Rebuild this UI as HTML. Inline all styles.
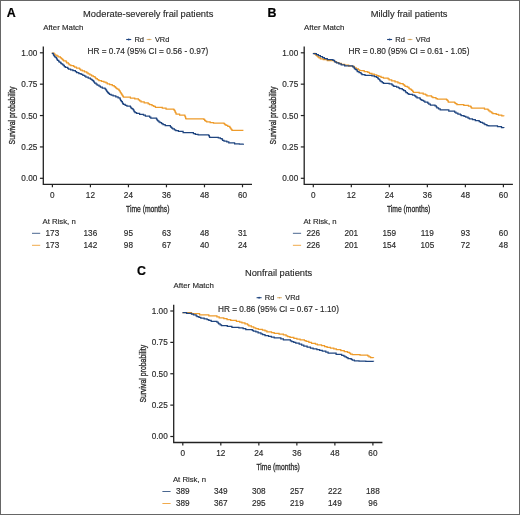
<!DOCTYPE html>
<html><head><meta charset="utf-8"><style>
html,body{margin:0;padding:0;background:#fff;}
svg{display:block;font-family:"Liberation Sans", sans-serif;will-change:transform;}
text{stroke:#2b2b2b;stroke-width:.16px;}
text.L{stroke:#000;stroke-width:.2px;}
</style></head><body>
<svg width="520" height="515" viewBox="0 0 520 515">
<rect x="0" y="0" width="520" height="515" fill="#fff"/>
<text x="6.7" y="16.9" class="L" font-size="12.4" font-weight="bold" fill="#000">A</text>
<text x="148.2" y="17.3" font-size="9.9" textLength="130.2" lengthAdjust="spacingAndGlyphs" text-anchor="middle" fill="#2b2b2b">Moderate-severely frail patients</text>
<text x="43.2" y="29.8" font-size="7.9" textLength="40.2" lengthAdjust="spacingAndGlyphs" fill="#2b2b2b">After Match</text>
<line x1="126.2" y1="39.5" x2="131.2" y2="39.5" stroke="#1f4580" stroke-width="1.1"/><circle cx="128.7" cy="39.5" r="0.9" fill="#1f4580"/>
<text x="134.4" y="41.9" font-size="7.6" textLength="9.6" lengthAdjust="spacingAndGlyphs" fill="#2b2b2b">Rd</text>
<line x1="146.7" y1="39.5" x2="151.5" y2="39.5" stroke="#e2b978" stroke-width="1.1"/><circle cx="149.1" cy="39.5" r="0.8" fill="#c99a55"/>
<text x="154.9" y="41.9" font-size="7.6" textLength="14.4" lengthAdjust="spacingAndGlyphs" fill="#2b2b2b">VRd</text>
<text x="87.6" y="54.0" font-size="8.2" textLength="120.6" lengthAdjust="spacingAndGlyphs" fill="#2b2b2b">HR = 0.74 (95% CI = 0.56 - 0.97)</text>
<path d="M43.30,46.50 V184.30 H252.00" fill="none" stroke="#222" stroke-width="1.3"/>
<line x1="39.90" y1="52.80" x2="43.30" y2="52.80" stroke="#222" stroke-width="1.2"/>
<text x="37.3" y="55.7" font-size="8.2" text-anchor="end" fill="#2b2b2b">1.00</text>
<line x1="39.90" y1="84.17" x2="43.30" y2="84.17" stroke="#222" stroke-width="1.2"/>
<text x="37.3" y="87.1" font-size="8.2" text-anchor="end" fill="#2b2b2b">0.75</text>
<line x1="39.90" y1="115.55" x2="43.30" y2="115.55" stroke="#222" stroke-width="1.2"/>
<text x="37.3" y="118.5" font-size="8.2" text-anchor="end" fill="#2b2b2b">0.50</text>
<line x1="39.90" y1="146.93" x2="43.30" y2="146.93" stroke="#222" stroke-width="1.2"/>
<text x="37.3" y="149.8" font-size="8.2" text-anchor="end" fill="#2b2b2b">0.25</text>
<line x1="39.90" y1="178.30" x2="43.30" y2="178.30" stroke="#222" stroke-width="1.2"/>
<text x="37.3" y="181.2" font-size="8.2" text-anchor="end" fill="#2b2b2b">0.00</text>
<line x1="52.40" y1="184.30" x2="52.40" y2="187.30" stroke="#222" stroke-width="1.2"/>
<text x="52.4" y="197.6" font-size="8.2" text-anchor="middle" fill="#2b2b2b">0</text>
<text x="52.4" y="235.9" font-size="8.2" text-anchor="middle" fill="#2b2b2b">173</text>
<text x="52.4" y="247.6" font-size="8.2" text-anchor="middle" fill="#2b2b2b">173</text>
<line x1="90.42" y1="184.30" x2="90.42" y2="187.30" stroke="#222" stroke-width="1.2"/>
<text x="90.4" y="197.6" font-size="8.2" text-anchor="middle" fill="#2b2b2b">12</text>
<text x="90.4" y="235.9" font-size="8.2" text-anchor="middle" fill="#2b2b2b">136</text>
<text x="90.4" y="247.6" font-size="8.2" text-anchor="middle" fill="#2b2b2b">142</text>
<line x1="128.44" y1="184.30" x2="128.44" y2="187.30" stroke="#222" stroke-width="1.2"/>
<text x="128.4" y="197.6" font-size="8.2" text-anchor="middle" fill="#2b2b2b">24</text>
<text x="128.4" y="235.9" font-size="8.2" text-anchor="middle" fill="#2b2b2b">95</text>
<text x="128.4" y="247.6" font-size="8.2" text-anchor="middle" fill="#2b2b2b">98</text>
<line x1="166.46" y1="184.30" x2="166.46" y2="187.30" stroke="#222" stroke-width="1.2"/>
<text x="166.5" y="197.6" font-size="8.2" text-anchor="middle" fill="#2b2b2b">36</text>
<text x="166.5" y="235.9" font-size="8.2" text-anchor="middle" fill="#2b2b2b">63</text>
<text x="166.5" y="247.6" font-size="8.2" text-anchor="middle" fill="#2b2b2b">67</text>
<line x1="204.48" y1="184.30" x2="204.48" y2="187.30" stroke="#222" stroke-width="1.2"/>
<text x="204.5" y="197.6" font-size="8.2" text-anchor="middle" fill="#2b2b2b">48</text>
<text x="204.5" y="235.9" font-size="8.2" text-anchor="middle" fill="#2b2b2b">48</text>
<text x="204.5" y="247.6" font-size="8.2" text-anchor="middle" fill="#2b2b2b">40</text>
<line x1="242.50" y1="184.30" x2="242.50" y2="187.30" stroke="#222" stroke-width="1.2"/>
<text x="242.5" y="197.6" font-size="8.2" text-anchor="middle" fill="#2b2b2b">60</text>
<text x="242.5" y="235.9" font-size="8.2" text-anchor="middle" fill="#2b2b2b">31</text>
<text x="242.5" y="247.6" font-size="8.2" text-anchor="middle" fill="#2b2b2b">24</text>
<text x="126.0" y="211.8" font-size="9.3" textLength="43.4" lengthAdjust="spacingAndGlyphs" fill="#2b2b2b" style="stroke-width:.32px">Time (months)</text>
<text transform="translate(15.2,144.4) rotate(-90)" x="0" y="0" font-size="9.3" textLength="57.8" lengthAdjust="spacingAndGlyphs" fill="#2b2b2b" style="stroke-width:.32px">Survival probability</text>
<text x="42.5" y="223.5" font-size="7.9" textLength="33.2" lengthAdjust="spacingAndGlyphs" fill="#2b2b2b">At Risk, n</text>
<line x1="32.0" y1="233.30" x2="40.2" y2="233.30" stroke="#4a6790" stroke-width="1"/>
<line x1="32.0" y1="245.30" x2="40.2" y2="245.30" stroke="#f1aa4c" stroke-width="1"/>
<polyline points="52.40,52.60 52.40,53.08 54.07,53.08 54.07,54.05 55.10,54.05 55.10,55.02 56.90,55.02 56.90,55.50 56.90,55.98 58.08,55.98 58.08,56.95 60.37,56.95 60.37,57.92 61.50,57.92 61.50,58.40 61.50,58.88 62.62,58.88 62.62,59.85 63.57,59.85 63.57,60.82 66.10,60.82 66.10,61.30 66.10,61.80 66.68,61.80 66.68,62.80 68.41,62.80 68.41,63.80 69.23,63.80 69.23,64.80 70.80,64.80 70.80,65.30 70.80,65.68 73.56,65.68 73.56,66.45 74.58,66.45 74.58,67.22 76.50,67.22 76.50,67.60 76.50,68.08 79.52,68.08 79.52,69.05 80.58,69.05 80.58,70.02 82.30,70.02 82.30,70.50 82.30,70.98 84.47,70.98 84.47,71.95 86.79,71.95 86.79,72.92 88.10,72.92 88.10,73.40 88.10,73.87 89.88,73.87 89.88,74.81 91.66,74.81 91.66,75.75 93.33,75.75 93.33,76.69 95.03,76.69 95.03,77.63 95.80,77.63 95.80,78.10 95.80,78.58 97.34,78.58 97.34,79.55 98.83,79.55 98.83,80.52 101.50,80.52 101.50,81.00 101.50,81.38 103.91,81.38 103.91,82.15 105.95,82.15 105.95,82.92 107.30,82.92 107.30,83.30 107.30,83.77 109.62,83.77 109.62,84.70 112.25,84.70 112.25,85.63 114.20,85.63 114.20,86.10 114.20,86.54 115.30,86.54 115.30,87.41 116.13,87.41 116.13,88.29 117.22,88.29 117.22,89.16 118.80,89.16 118.80,89.60 118.80,90.04 119.43,90.04 119.43,90.91 120.10,90.91 120.10,91.79 120.47,91.79 120.47,92.66 121.10,92.66 121.10,93.10 121.10,93.52 121.71,93.52 121.71,94.38 122.06,94.38 122.06,95.22 122.67,95.22 122.67,96.08 123.40,96.08 123.40,96.50 123.40,97.10 130.40,97.10 130.40,97.70 130.40,98.12 134.75,98.12 134.75,98.98 138.40,98.98 138.40,99.40 138.40,99.88 139.62,99.88 139.62,100.85 141.01,100.85 141.01,101.82 144.20,101.82 144.20,102.30 144.20,102.80 148.19,102.80 148.19,103.80 149.60,103.80 149.60,104.30 149.60,104.70 152.00,104.70 152.00,105.50 153.73,105.50 153.73,106.30 155.40,106.30 155.40,106.70 155.40,107.25 162.30,107.25 162.30,107.80 162.30,108.22 166.06,108.22 166.06,109.08 173.80,109.08 173.80,109.50 173.80,109.91 174.56,109.91 174.56,110.73 175.04,110.73 175.04,111.55 175.26,111.55 175.26,112.37 175.81,112.37 175.81,113.19 176.10,113.19 176.10,113.60 176.10,114.15 179.60,114.15 179.60,114.70 179.60,115.00 184.80,115.00 184.80,115.30 184.80,115.74 185.01,115.74 185.01,116.61 185.50,116.61 185.50,117.49 185.64,117.49 185.64,118.36 186.00,118.36 186.00,118.80 203.80,118.80 203.80,118.90 203.80,119.35 204.62,119.35 204.62,120.25 205.35,120.25 205.35,121.15 206.70,121.15 206.70,121.60 206.70,121.97 210.16,121.97 210.16,122.72 213.50,122.72 213.50,123.10 224.00,123.10 224.00,123.10 224.00,123.57 224.79,123.57 224.79,124.53 226.00,124.53 226.00,125.00 226.00,125.47 227.79,125.47 227.79,126.43 229.80,126.43 229.80,126.90 229.80,127.33 230.30,127.33 230.30,128.18 230.96,128.18 230.96,129.03 231.64,129.03 231.64,129.88 232.20,129.88 232.20,130.30 243.40,130.30 243.40,130.30" fill="none" stroke="#ee9b2a" stroke-width="1.25" stroke-linejoin="miter"/>
<polyline points="52.40,52.80 52.40,53.30 53.20,53.30 53.20,53.80 53.20,54.22 53.51,54.22 53.51,55.08 54.04,55.08 54.04,55.92 54.64,55.92 54.64,56.78 55.80,56.78 55.80,57.20 55.80,57.66 56.51,57.66 56.51,58.58 57.05,58.58 57.05,59.50 57.52,59.50 57.52,60.42 58.75,60.42 58.75,61.34 59.20,61.34 59.20,61.80 59.20,62.24 60.67,62.24 60.67,63.11 61.37,63.11 61.37,63.99 62.71,63.99 62.71,64.86 63.80,64.86 63.80,65.30 63.80,65.74 64.37,65.74 64.37,66.61 65.44,66.61 65.44,67.49 67.71,67.49 67.71,68.36 68.50,68.36 68.50,68.80 68.50,69.18 70.59,69.18 70.59,69.95 72.91,69.95 72.91,70.72 75.40,70.72 75.40,71.10 75.40,71.58 76.63,71.58 76.63,72.55 78.86,72.55 78.86,73.52 81.10,73.52 81.10,74.00 81.10,74.42 82.83,74.42 82.83,75.28 84.60,75.28 84.60,75.70 84.60,76.18 85.89,76.18 85.89,77.15 88.19,77.15 88.19,78.12 90.40,78.12 90.40,78.60 90.40,79.01 91.68,79.01 91.68,79.83 92.69,79.83 92.69,80.65 93.55,80.65 93.55,81.47 94.12,81.47 94.12,82.29 94.60,82.29 94.60,82.70 94.60,83.20 96.07,83.20 96.07,84.20 97.15,84.20 97.15,85.20 99.00,85.20 99.00,86.20 100.40,86.20 100.40,86.70 100.40,87.15 102.28,87.15 102.28,88.05 105.00,88.05 105.00,88.50 105.00,88.96 105.74,88.96 105.74,89.88 106.52,89.88 106.52,90.80 106.96,90.80 106.96,91.72 107.69,91.72 107.69,92.64 108.50,92.64 108.50,93.10 108.50,93.48 109.44,93.48 109.44,94.25 111.12,94.25 111.12,95.02 113.10,95.02 113.10,95.40 113.10,95.88 115.80,95.88 115.80,96.85 118.08,96.85 118.08,97.82 120.00,97.82 120.00,98.30 120.00,98.77 120.31,98.77 120.31,99.72 120.67,99.72 120.67,100.67 121.49,100.67 121.49,101.62 122.39,101.62 122.39,102.58 122.71,102.58 122.71,103.53 123.40,103.53 123.40,104.00 123.40,104.45 125.18,104.45 125.18,105.35 126.90,105.35 126.90,105.80 126.90,106.05 130.40,106.05 130.40,106.30 130.40,106.78 130.83,106.78 130.83,107.75 131.71,107.75 131.71,108.72 132.96,108.72 132.96,109.68 133.74,109.68 133.74,110.65 134.11,110.65 134.11,111.62 135.00,111.62 135.00,112.10 135.00,112.52 136.57,112.52 136.57,113.38 139.60,113.38 139.60,113.80 139.60,114.27 143.50,114.27 143.50,115.22 145.36,115.22 145.36,116.17 149.61,116.17 149.61,117.12 150.80,117.12 150.80,117.60 150.80,118.20 156.50,118.20 156.50,118.80 156.50,119.22 157.16,119.22 157.16,120.08 157.75,120.08 157.75,120.92 158.84,120.92 158.84,121.78 160.00,121.78 160.00,122.20 160.00,122.68 161.59,122.68 161.59,123.65 163.02,123.65 163.02,124.62 165.20,124.62 165.20,125.10 165.20,125.70 170.40,125.70 170.40,126.30 170.40,126.68 171.00,126.68 171.00,127.45 171.73,127.45 171.73,128.22 172.70,128.22 172.70,128.60 172.70,128.98 174.40,128.98 174.40,129.75 175.78,129.75 175.78,130.52 178.40,130.52 178.40,130.90 178.40,131.45 183.10,131.45 183.10,132.00 183.10,132.60 193.40,132.60 193.40,133.20 193.40,133.62 195.33,133.62 195.33,134.47 198.10,134.47 198.10,134.90 208.70,134.90 208.70,135.10 208.70,135.62 209.33,135.62 209.33,136.67 209.60,136.67 209.60,137.20 209.60,137.35 218.30,137.35 218.30,137.50 218.30,137.85 220.32,137.85 220.32,138.55 222.10,138.55 222.10,138.90 222.10,139.38 222.53,139.38 222.53,140.33 224.00,140.33 224.00,140.80 224.00,141.18 226.77,141.18 226.77,141.93 228.80,141.93 228.80,142.30 228.80,142.80 234.60,142.80 234.60,143.30 234.60,143.75 239.40,143.75 239.40,144.20 243.40,144.20 243.40,143.80" fill="none" stroke="#1f4580" stroke-width="1.25" stroke-linejoin="miter"/>
<text x="267.6" y="16.9" class="L" font-size="12.4" font-weight="bold" fill="#000">B</text>
<text x="409.1" y="17.3" font-size="9.9" textLength="76.8" lengthAdjust="spacingAndGlyphs" text-anchor="middle" fill="#2b2b2b">Mildly frail patients</text>
<text x="304.1" y="29.8" font-size="7.9" textLength="40.2" lengthAdjust="spacingAndGlyphs" fill="#2b2b2b">After Match</text>
<line x1="387.1" y1="39.5" x2="392.1" y2="39.5" stroke="#1f4580" stroke-width="1.1"/><circle cx="389.6" cy="39.5" r="0.9" fill="#1f4580"/>
<text x="395.3" y="41.9" font-size="7.6" textLength="9.6" lengthAdjust="spacingAndGlyphs" fill="#2b2b2b">Rd</text>
<line x1="407.6" y1="39.5" x2="412.4" y2="39.5" stroke="#e2b978" stroke-width="1.1"/><circle cx="410.0" cy="39.5" r="0.8" fill="#c99a55"/>
<text x="415.8" y="41.9" font-size="7.6" textLength="14.4" lengthAdjust="spacingAndGlyphs" fill="#2b2b2b">VRd</text>
<text x="348.5" y="54.0" font-size="8.2" textLength="120.9" lengthAdjust="spacingAndGlyphs" fill="#2b2b2b">HR = 0.80 (95% CI = 0.61 - 1.05)</text>
<path d="M304.20,46.50 V184.30 H512.90" fill="none" stroke="#222" stroke-width="1.3"/>
<line x1="300.80" y1="52.80" x2="304.20" y2="52.80" stroke="#222" stroke-width="1.2"/>
<text x="298.2" y="55.7" font-size="8.2" text-anchor="end" fill="#2b2b2b">1.00</text>
<line x1="300.80" y1="84.17" x2="304.20" y2="84.17" stroke="#222" stroke-width="1.2"/>
<text x="298.2" y="87.1" font-size="8.2" text-anchor="end" fill="#2b2b2b">0.75</text>
<line x1="300.80" y1="115.55" x2="304.20" y2="115.55" stroke="#222" stroke-width="1.2"/>
<text x="298.2" y="118.5" font-size="8.2" text-anchor="end" fill="#2b2b2b">0.50</text>
<line x1="300.80" y1="146.93" x2="304.20" y2="146.93" stroke="#222" stroke-width="1.2"/>
<text x="298.2" y="149.8" font-size="8.2" text-anchor="end" fill="#2b2b2b">0.25</text>
<line x1="300.80" y1="178.30" x2="304.20" y2="178.30" stroke="#222" stroke-width="1.2"/>
<text x="298.2" y="181.2" font-size="8.2" text-anchor="end" fill="#2b2b2b">0.00</text>
<line x1="313.30" y1="184.30" x2="313.30" y2="187.30" stroke="#222" stroke-width="1.2"/>
<text x="313.3" y="197.6" font-size="8.2" text-anchor="middle" fill="#2b2b2b">0</text>
<text x="313.3" y="235.9" font-size="8.2" text-anchor="middle" fill="#2b2b2b">226</text>
<text x="313.3" y="247.6" font-size="8.2" text-anchor="middle" fill="#2b2b2b">226</text>
<line x1="351.32" y1="184.30" x2="351.32" y2="187.30" stroke="#222" stroke-width="1.2"/>
<text x="351.3" y="197.6" font-size="8.2" text-anchor="middle" fill="#2b2b2b">12</text>
<text x="351.3" y="235.9" font-size="8.2" text-anchor="middle" fill="#2b2b2b">201</text>
<text x="351.3" y="247.6" font-size="8.2" text-anchor="middle" fill="#2b2b2b">201</text>
<line x1="389.34" y1="184.30" x2="389.34" y2="187.30" stroke="#222" stroke-width="1.2"/>
<text x="389.3" y="197.6" font-size="8.2" text-anchor="middle" fill="#2b2b2b">24</text>
<text x="389.3" y="235.9" font-size="8.2" text-anchor="middle" fill="#2b2b2b">159</text>
<text x="389.3" y="247.6" font-size="8.2" text-anchor="middle" fill="#2b2b2b">154</text>
<line x1="427.36" y1="184.30" x2="427.36" y2="187.30" stroke="#222" stroke-width="1.2"/>
<text x="427.4" y="197.6" font-size="8.2" text-anchor="middle" fill="#2b2b2b">36</text>
<text x="427.4" y="235.9" font-size="8.2" text-anchor="middle" fill="#2b2b2b">119</text>
<text x="427.4" y="247.6" font-size="8.2" text-anchor="middle" fill="#2b2b2b">105</text>
<line x1="465.38" y1="184.30" x2="465.38" y2="187.30" stroke="#222" stroke-width="1.2"/>
<text x="465.4" y="197.6" font-size="8.2" text-anchor="middle" fill="#2b2b2b">48</text>
<text x="465.4" y="235.9" font-size="8.2" text-anchor="middle" fill="#2b2b2b">93</text>
<text x="465.4" y="247.6" font-size="8.2" text-anchor="middle" fill="#2b2b2b">72</text>
<line x1="503.40" y1="184.30" x2="503.40" y2="187.30" stroke="#222" stroke-width="1.2"/>
<text x="503.4" y="197.6" font-size="8.2" text-anchor="middle" fill="#2b2b2b">60</text>
<text x="503.4" y="235.9" font-size="8.2" text-anchor="middle" fill="#2b2b2b">60</text>
<text x="503.4" y="247.6" font-size="8.2" text-anchor="middle" fill="#2b2b2b">48</text>
<text x="386.9" y="211.8" font-size="9.3" textLength="43.4" lengthAdjust="spacingAndGlyphs" fill="#2b2b2b" style="stroke-width:.32px">Time (months)</text>
<text transform="translate(276.1,144.4) rotate(-90)" x="0" y="0" font-size="9.3" textLength="57.8" lengthAdjust="spacingAndGlyphs" fill="#2b2b2b" style="stroke-width:.32px">Survival probability</text>
<text x="303.4" y="223.5" font-size="7.9" textLength="33.2" lengthAdjust="spacingAndGlyphs" fill="#2b2b2b">At Risk, n</text>
<line x1="292.9" y1="233.30" x2="301.1" y2="233.30" stroke="#4a6790" stroke-width="1"/>
<line x1="292.9" y1="245.30" x2="301.1" y2="245.30" stroke="#f1aa4c" stroke-width="1"/>
<polyline points="313.50,53.00 313.50,53.45 314.98,53.45 314.98,54.35 316.00,54.35 316.00,55.25 317.01,55.25 317.01,56.15 318.05,56.15 318.05,57.05 318.98,57.05 318.98,57.95 320.40,57.95 320.40,58.40 320.40,58.83 323.27,58.83 323.27,59.67 327.30,59.67 327.30,60.10 327.30,60.70 334.20,60.70 334.20,61.30 334.20,61.72 336.51,61.72 336.51,62.58 338.86,62.58 338.86,63.42 341.22,63.42 341.22,64.28 344.60,64.28 344.60,64.70 344.60,65.15 348.66,65.15 348.66,66.05 353.80,66.05 353.80,66.50 353.80,66.97 354.54,66.97 354.54,67.90 356.28,67.90 356.28,68.83 358.40,68.83 358.40,69.30 358.40,69.75 359.70,69.75 359.70,70.65 364.20,70.65 364.20,71.10 364.20,71.55 367.78,71.55 367.78,72.45 369.49,72.45 369.49,73.35 371.90,73.35 371.90,73.80 371.90,74.18 374.27,74.18 374.27,74.95 376.74,74.95 376.74,75.72 378.80,75.72 378.80,76.10 378.80,76.48 381.02,76.48 381.02,77.25 383.42,77.25 383.42,78.02 388.10,78.02 388.10,78.40 388.10,78.88 389.13,78.88 389.13,79.85 391.73,79.85 391.73,80.82 395.00,80.82 395.00,81.30 395.00,81.78 397.92,81.78 397.92,82.75 399.95,82.75 399.95,83.72 403.10,83.72 403.10,84.20 403.10,84.62 404.16,84.62 404.16,85.47 405.04,85.47 405.04,86.33 407.29,86.33 407.29,87.17 408.80,87.17 408.80,87.60 408.80,88.01 409.36,88.01 409.36,88.83 410.85,88.83 410.85,89.65 411.66,89.65 411.66,90.47 412.63,90.47 412.63,91.29 413.40,91.29 413.40,91.70 413.40,92.25 419.20,92.25 419.20,92.80 419.20,93.20 423.19,93.20 423.19,94.00 425.57,94.00 425.57,94.80 426.90,94.80 426.90,95.20 426.90,95.75 431.50,95.75 431.50,96.30 431.50,96.75 432.83,96.75 432.83,97.65 435.96,97.65 435.96,98.55 437.30,98.55 437.30,99.00 446.50,99.00 446.50,99.20 446.50,99.60 447.13,99.60 447.13,100.40 447.92,100.40 447.92,101.20 448.30,101.20 448.30,101.60 448.30,102.00 454.60,102.00 454.60,102.40 454.60,102.83 455.52,102.83 455.52,103.67 456.90,103.67 456.90,104.10 456.90,104.60 463.80,104.60 463.80,105.10 463.80,105.45 468.46,105.45 468.46,106.15 470.70,106.15 470.70,106.50 470.70,106.92 471.30,106.92 471.30,107.78 471.90,107.78 471.90,108.20 481.20,108.20 481.20,107.60 481.20,108.07 484.47,108.07 484.47,109.03 487.90,109.03 487.90,109.50 487.90,109.98 488.79,109.98 488.79,110.95 490.06,110.95 490.06,111.92 491.70,111.92 491.70,112.40 491.70,112.80 492.82,112.80 492.82,113.60 496.24,113.60 496.24,114.40 498.50,114.40 498.50,114.80 498.50,115.17 501.77,115.17 501.77,115.92 503.80,115.92 503.80,116.30" fill="none" stroke="#ee9b2a" stroke-width="1.25" stroke-linejoin="miter"/>
<polyline points="313.50,53.00 313.50,53.52 316.41,53.52 316.41,54.55 318.41,54.55 318.41,55.58 320.40,55.58 320.40,56.10 320.40,56.58 322.51,56.58 322.51,57.55 324.41,57.55 324.41,58.52 327.30,58.52 327.30,59.00 327.30,59.55 333.00,59.55 333.00,60.10 333.00,60.48 334.51,60.48 334.51,61.25 335.09,61.25 335.09,62.02 336.50,62.02 336.50,62.40 336.50,62.88 338.85,62.88 338.85,63.85 341.22,63.85 341.22,64.82 344.60,64.82 344.60,65.30 344.60,65.90 352.70,65.90 352.70,66.50 352.70,66.96 354.05,66.96 354.05,67.88 354.51,67.88 354.51,68.80 355.61,68.80 355.61,69.72 356.95,69.72 356.95,70.64 357.30,70.64 357.30,71.10 357.30,71.58 359.06,71.58 359.06,72.55 360.98,72.55 360.98,73.52 361.90,73.52 361.90,74.00 361.90,74.50 365.00,74.50 365.00,75.00 365.00,75.25 371.90,75.25 371.90,75.50 371.90,75.88 374.41,75.88 374.41,76.65 376.51,76.65 376.51,77.42 377.70,77.42 377.70,77.80 377.70,78.23 378.33,78.23 378.33,79.10 379.56,79.10 379.56,79.97 379.97,79.97 379.97,80.83 380.98,80.83 380.98,81.70 382.26,81.70 382.26,82.57 383.50,82.57 383.50,83.00 383.50,83.30 389.20,83.30 389.20,83.60 389.20,83.98 391.88,83.98 391.88,84.75 392.93,84.75 392.93,85.52 393.80,85.52 393.80,85.90 393.80,86.28 396.62,86.28 396.62,87.05 398.52,87.05 398.52,87.82 399.60,87.82 399.60,88.20 399.60,88.68 402.24,88.68 402.24,89.65 403.69,89.65 403.69,90.62 405.40,90.62 405.40,91.10 405.40,91.58 405.96,91.58 405.96,92.55 407.44,92.55 407.44,93.52 408.80,93.52 408.80,94.00 408.80,94.35 412.52,94.35 412.52,95.05 414.60,95.05 414.60,95.40 414.60,95.90 415.73,95.90 415.73,96.90 417.01,96.90 417.01,97.90 420.00,97.90 420.00,98.40 420.00,98.78 420.56,98.78 420.56,99.55 421.86,99.55 421.86,100.32 423.50,100.32 423.50,100.70 423.50,101.20 424.84,101.20 424.84,102.20 427.75,102.20 427.75,103.20 428.81,103.20 428.81,104.20 430.40,104.20 430.40,104.70 430.40,105.00 435.00,105.00 435.00,105.30 435.00,105.80 436.28,105.80 436.28,106.80 436.89,106.80 436.89,107.80 438.54,107.80 438.54,108.80 440.20,108.80 440.20,109.30 440.20,109.90 448.80,109.90 448.80,110.50 448.80,111.05 454.60,111.05 454.60,111.60 454.60,112.08 455.95,112.08 455.95,113.05 457.90,113.05 457.90,114.02 460.40,114.02 460.40,114.50 460.40,114.88 461.29,114.88 461.29,115.65 464.00,115.65 464.00,116.42 465.80,116.42 465.80,116.80 465.80,117.20 468.03,117.20 468.03,118.00 469.42,118.00 469.42,118.80 472.50,118.80 472.50,119.20 472.50,119.67 475.31,119.67 475.31,120.62 479.20,120.62 479.20,121.10 479.20,121.50 480.51,121.50 480.51,122.30 482.49,122.30 482.49,123.10 484.00,123.10 484.00,123.50 484.00,123.90 484.90,123.90 484.90,124.70 486.93,124.70 486.93,125.50 488.80,125.50 488.80,125.90 494.60,125.90 494.60,125.40 494.60,125.83 497.49,125.83 497.49,126.70 501.50,126.70 501.50,127.57 503.80,127.57 503.80,128.00" fill="none" stroke="#1f4580" stroke-width="1.25" stroke-linejoin="miter"/>
<text x="137.1" y="275.1" class="L" font-size="12.4" font-weight="bold" fill="#000">C</text>
<text x="278.6" y="275.5" font-size="9.9" textLength="67.3" lengthAdjust="spacingAndGlyphs" text-anchor="middle" fill="#2b2b2b">Nonfrail patients</text>
<text x="173.6" y="288.0" font-size="7.9" textLength="40.2" lengthAdjust="spacingAndGlyphs" fill="#2b2b2b">After Match</text>
<line x1="256.6" y1="297.7" x2="261.6" y2="297.7" stroke="#1f4580" stroke-width="1.1"/><circle cx="259.1" cy="297.7" r="0.9" fill="#1f4580"/>
<text x="264.8" y="300.1" font-size="7.6" textLength="9.6" lengthAdjust="spacingAndGlyphs" fill="#2b2b2b">Rd</text>
<line x1="277.1" y1="297.7" x2="281.9" y2="297.7" stroke="#e2b978" stroke-width="1.1"/><circle cx="279.5" cy="297.7" r="0.8" fill="#c99a55"/>
<text x="285.3" y="300.1" font-size="7.6" textLength="14.4" lengthAdjust="spacingAndGlyphs" fill="#2b2b2b">VRd</text>
<text x="218.0" y="312.2" font-size="8.2" textLength="120.9" lengthAdjust="spacingAndGlyphs" fill="#2b2b2b">HR = 0.86 (95% CI = 0.67 - 1.10)</text>
<path d="M173.70,304.70 V442.50 H382.40" fill="none" stroke="#222" stroke-width="1.3"/>
<line x1="170.30" y1="311.00" x2="173.70" y2="311.00" stroke="#222" stroke-width="1.2"/>
<text x="167.7" y="313.9" font-size="8.2" text-anchor="end" fill="#2b2b2b">1.00</text>
<line x1="170.30" y1="342.38" x2="173.70" y2="342.38" stroke="#222" stroke-width="1.2"/>
<text x="167.7" y="345.3" font-size="8.2" text-anchor="end" fill="#2b2b2b">0.75</text>
<line x1="170.30" y1="373.75" x2="173.70" y2="373.75" stroke="#222" stroke-width="1.2"/>
<text x="167.7" y="376.6" font-size="8.2" text-anchor="end" fill="#2b2b2b">0.50</text>
<line x1="170.30" y1="405.12" x2="173.70" y2="405.12" stroke="#222" stroke-width="1.2"/>
<text x="167.7" y="408.0" font-size="8.2" text-anchor="end" fill="#2b2b2b">0.25</text>
<line x1="170.30" y1="436.50" x2="173.70" y2="436.50" stroke="#222" stroke-width="1.2"/>
<text x="167.7" y="439.4" font-size="8.2" text-anchor="end" fill="#2b2b2b">0.00</text>
<line x1="182.80" y1="442.50" x2="182.80" y2="445.50" stroke="#222" stroke-width="1.2"/>
<text x="182.8" y="455.8" font-size="8.2" text-anchor="middle" fill="#2b2b2b">0</text>
<text x="182.8" y="494.1" font-size="8.2" text-anchor="middle" fill="#2b2b2b">389</text>
<text x="182.8" y="505.8" font-size="8.2" text-anchor="middle" fill="#2b2b2b">389</text>
<line x1="220.82" y1="442.50" x2="220.82" y2="445.50" stroke="#222" stroke-width="1.2"/>
<text x="220.8" y="455.8" font-size="8.2" text-anchor="middle" fill="#2b2b2b">12</text>
<text x="220.8" y="494.1" font-size="8.2" text-anchor="middle" fill="#2b2b2b">349</text>
<text x="220.8" y="505.8" font-size="8.2" text-anchor="middle" fill="#2b2b2b">367</text>
<line x1="258.84" y1="442.50" x2="258.84" y2="445.50" stroke="#222" stroke-width="1.2"/>
<text x="258.8" y="455.8" font-size="8.2" text-anchor="middle" fill="#2b2b2b">24</text>
<text x="258.8" y="494.1" font-size="8.2" text-anchor="middle" fill="#2b2b2b">308</text>
<text x="258.8" y="505.8" font-size="8.2" text-anchor="middle" fill="#2b2b2b">295</text>
<line x1="296.86" y1="442.50" x2="296.86" y2="445.50" stroke="#222" stroke-width="1.2"/>
<text x="296.9" y="455.8" font-size="8.2" text-anchor="middle" fill="#2b2b2b">36</text>
<text x="296.9" y="494.1" font-size="8.2" text-anchor="middle" fill="#2b2b2b">257</text>
<text x="296.9" y="505.8" font-size="8.2" text-anchor="middle" fill="#2b2b2b">219</text>
<line x1="334.88" y1="442.50" x2="334.88" y2="445.50" stroke="#222" stroke-width="1.2"/>
<text x="334.9" y="455.8" font-size="8.2" text-anchor="middle" fill="#2b2b2b">48</text>
<text x="334.9" y="494.1" font-size="8.2" text-anchor="middle" fill="#2b2b2b">222</text>
<text x="334.9" y="505.8" font-size="8.2" text-anchor="middle" fill="#2b2b2b">149</text>
<line x1="372.90" y1="442.50" x2="372.90" y2="445.50" stroke="#222" stroke-width="1.2"/>
<text x="372.9" y="455.8" font-size="8.2" text-anchor="middle" fill="#2b2b2b">60</text>
<text x="372.9" y="494.1" font-size="8.2" text-anchor="middle" fill="#2b2b2b">188</text>
<text x="372.9" y="505.8" font-size="8.2" text-anchor="middle" fill="#2b2b2b">96</text>
<text x="256.4" y="470.0" font-size="9.3" textLength="43.4" lengthAdjust="spacingAndGlyphs" fill="#2b2b2b" style="stroke-width:.32px">Time (months)</text>
<text transform="translate(145.6,402.6) rotate(-90)" x="0" y="0" font-size="9.3" textLength="57.8" lengthAdjust="spacingAndGlyphs" fill="#2b2b2b" style="stroke-width:.32px">Survival probability</text>
<text x="172.9" y="481.7" font-size="7.9" textLength="33.2" lengthAdjust="spacingAndGlyphs" fill="#2b2b2b">At Risk, n</text>
<line x1="162.4" y1="491.50" x2="170.6" y2="491.50" stroke="#4a6790" stroke-width="1"/>
<line x1="162.4" y1="503.50" x2="170.6" y2="503.50" stroke="#f1aa4c" stroke-width="1"/>
<polyline points="183.00,312.20 183.00,312.65 191.50,312.65 191.50,313.10 191.50,313.65 199.60,313.65 199.60,314.20 199.60,314.80 208.80,314.80 208.80,315.40 208.80,315.95 216.90,315.95 216.90,316.50 216.90,316.95 219.17,316.95 219.17,317.85 223.80,317.85 223.80,318.30 223.80,318.73 227.04,318.73 227.04,319.57 230.70,319.57 230.70,320.00 230.70,320.42 236.38,320.42 236.38,321.25 239.67,321.25 239.67,322.08 241.90,322.08 241.90,322.50 241.90,322.98 244.96,322.98 244.96,323.95 247.56,323.95 247.56,324.92 248.80,324.92 248.80,325.40 248.80,325.88 251.34,325.88 251.34,326.85 253.73,326.85 253.73,327.82 255.80,327.82 255.80,328.30 255.80,328.68 258.27,328.68 258.27,329.45 262.48,329.45 262.48,330.22 265.00,330.22 265.00,330.60 265.00,330.98 266.89,330.98 266.89,331.75 271.50,331.75 271.50,332.52 274.20,332.52 274.20,332.90 274.20,333.32 279.07,333.32 279.07,334.18 283.40,334.18 283.40,334.60 283.40,334.98 286.09,334.98 286.09,335.75 287.73,335.75 287.73,336.52 290.00,336.52 290.00,336.90 290.00,337.35 293.84,337.35 293.84,338.25 296.90,338.25 296.90,338.70 296.90,339.08 300.10,339.08 300.10,339.85 304.42,339.85 304.42,340.62 306.10,340.62 306.10,341.00 306.10,341.47 308.85,341.47 308.85,342.40 311.53,342.40 311.53,343.33 315.40,343.33 315.40,343.80 315.40,344.18 317.35,344.18 317.35,344.95 321.54,344.95 321.54,345.72 324.60,345.72 324.60,346.10 324.60,346.50 327.08,346.50 327.08,347.30 330.42,347.30 330.42,348.10 333.80,348.10 333.80,348.50 333.80,348.90 336.31,348.90 336.31,349.70 340.80,349.70 340.80,350.10 340.80,350.58 344.24,350.58 344.24,351.52 347.50,351.52 347.50,352.00 347.50,352.40 349.35,352.40 349.35,353.20 350.57,353.20 350.57,354.00 352.30,354.00 352.30,354.40 352.30,354.65 360.00,354.65 360.00,354.90 360.00,355.15 367.70,355.15 367.70,355.40 367.70,355.88 368.97,355.88 368.97,356.82 370.60,356.82 370.60,357.30 370.60,357.55 373.50,357.55 373.50,357.80" fill="none" stroke="#ee9b2a" stroke-width="1.25" stroke-linejoin="miter"/>
<polyline points="183.00,312.20 183.00,312.57 186.56,312.57 186.56,313.32 191.50,313.32 191.50,313.70 191.50,314.12 193.46,314.12 193.46,314.97 196.10,314.97 196.10,315.40 196.10,315.78 197.04,315.78 197.04,316.55 198.97,316.55 198.97,317.32 200.80,317.32 200.80,317.70 200.80,318.08 204.15,318.08 204.15,318.85 207.09,318.85 207.09,319.62 208.80,319.62 208.80,320.00 208.80,320.43 211.19,320.43 211.19,321.27 216.90,321.27 216.90,321.70 216.90,322.14 218.15,322.14 218.15,323.01 218.75,323.01 218.75,323.89 220.17,323.89 220.17,324.76 221.50,324.76 221.50,325.20 221.50,325.50 227.30,325.50 227.30,325.80 227.30,326.35 231.90,326.35 231.90,326.90 231.90,327.25 238.90,327.25 238.90,327.95 243.10,327.95 243.10,328.30 243.10,328.73 245.77,328.73 245.77,329.57 252.30,329.57 252.30,330.00 252.30,330.38 253.33,330.38 253.33,331.15 255.85,331.15 255.85,331.92 258.10,331.92 258.10,332.30 258.10,332.78 260.92,332.78 260.92,333.75 262.62,333.75 262.62,334.72 265.00,334.72 265.00,335.20 265.00,335.58 268.53,335.58 268.53,336.35 271.34,336.35 271.34,337.12 274.20,337.12 274.20,337.50 274.20,337.93 280.83,337.93 280.83,338.77 283.40,338.77 283.40,339.20 283.40,339.80 290.40,339.80 290.40,340.40 290.40,340.78 291.77,340.78 291.77,341.55 293.75,341.55 293.75,342.32 295.80,342.32 295.80,342.70 295.80,343.18 299.19,343.18 299.19,344.15 301.67,344.15 301.67,345.12 303.80,345.12 303.80,345.60 303.80,346.08 307.10,346.08 307.10,347.05 310.44,347.05 310.44,348.02 313.10,348.02 313.10,348.50 313.10,348.88 316.86,348.88 316.86,349.65 319.65,349.65 319.65,350.42 322.30,350.42 322.30,350.80 322.30,351.23 325.81,351.23 325.81,352.07 328.10,352.07 328.10,352.50 328.10,353.05 336.10,353.05 336.10,353.60 336.10,354.25 341.70,354.25 341.70,354.90 341.70,355.30 343.83,355.30 343.83,356.10 345.00,356.10 345.00,356.90 346.50,356.90 346.50,357.30 346.50,357.70 348.01,357.70 348.01,358.50 351.20,358.50 351.20,359.30 352.30,359.30 352.30,359.70 352.30,360.07 354.38,360.07 354.38,360.82 359.00,360.82 359.00,361.20 365.80,361.20 365.80,361.20 365.80,361.40 373.50,361.40 373.50,361.60" fill="none" stroke="#1f4580" stroke-width="1.25" stroke-linejoin="miter"/>
<rect x="0.5" y="0.5" width="519" height="514" fill="none" stroke="#666" stroke-width="1"/>
</svg>
</body></html>
